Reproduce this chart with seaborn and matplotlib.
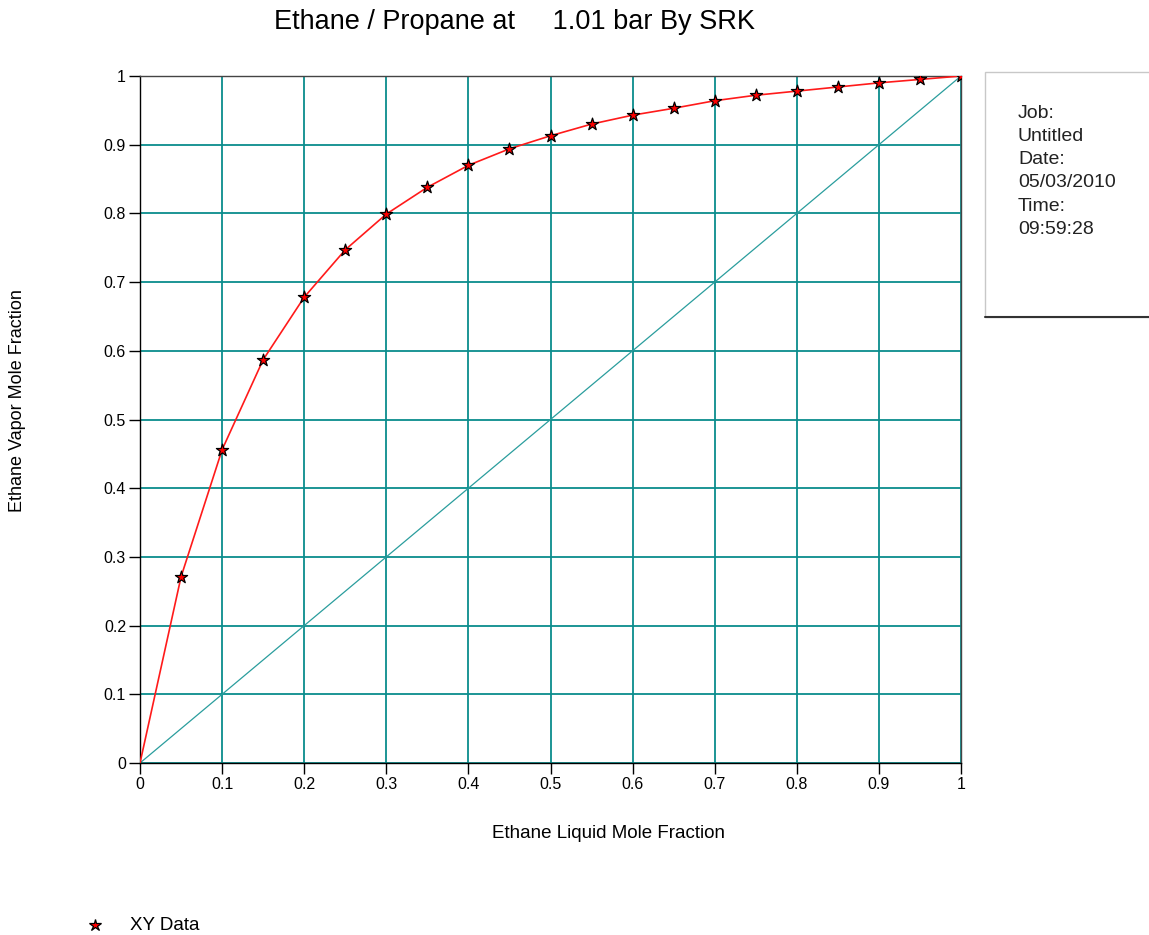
import matplotlib
matplotlib.use("Agg")
import matplotlib.pyplot as plt
import seaborn as sns
import pandas as pd
from matplotlib.patches import Rectangle
from matplotlib.lines import Line2D

x_liquid = [0.0, 0.05, 0.10, 0.15, 0.20, 0.25, 0.30, 0.35, 0.40, 0.45, 0.50,
            0.55, 0.60, 0.65, 0.70, 0.75, 0.80, 0.85, 0.90, 0.95, 1.0]
y_vapor = [0.0, 0.271, 0.456, 0.587, 0.678, 0.747, 0.799, 0.838, 0.870, 0.894, 0.913,
           0.930, 0.943, 0.953, 0.964, 0.972, 0.978, 0.984, 0.990, 0.995, 1.0]
diag = [0.0, 1.0]
ticks = [0, 0.1, 0.2, 0.3, 0.4, 0.5, 0.6, 0.7, 0.8, 0.9, 1]
tick_labels = ["0", "0.1", "0.2", "0.3", "0.4", "0.5", "0.6", "0.7", "0.8", "0.9", "1"]
info_lines = ["Job:", "Untitled", "Date:", "05/03/2010", "Time:", "09:59:28"]

sns.set_style("white")
plt.rcParams['font.family'] = ['Liberation Sans', 'DejaVu Sans']

df = pd.DataFrame({"x": x_liquid, "y": y_vapor})
df_pts = df.iloc[1:]
df_diag = pd.DataFrame({"x": diag, "y": diag})

fig = plt.figure(figsize=(11.49, 9.35), dpi=100)
ax = fig.add_axes([140/1149, 1 - 763/935, 821/1149, 687/935])

teal = "#0a8c8c"
sns.lineplot(data=df_diag, x="x", y="y", ax=ax, color="#2a9d9d", lw=0.9, zorder=2)
sns.lineplot(data=df, x="x", y="y", ax=ax, color="#ff1a1a", lw=1.2, zorder=3)
sns.scatterplot(data=df_pts, x="x", y="y", ax=ax, marker="*", s=85, color="red",
                edgecolor="black", linewidth=0.9, zorder=4)

ax.set_xlim(0, 1)
ax.set_ylim(0, 1)
ax.set_xticks(ticks)
ax.set_yticks(ticks)
ax.set_xticklabels(tick_labels, fontsize=11.5, color="black")
ax.set_yticklabels(tick_labels, fontsize=11.5, color="black")
ax.grid(True, color=teal, lw=1.3, zorder=1)
ax.set_axisbelow(True)
ax.tick_params(axis="both", direction="out", length=8, width=1, color="black",
               bottom=True, left=True, pad=2)
for s in ax.spines.values():
    s.set_color("black")
    s.set_linewidth(1)
ax.spines["top"].set_color("#444444")
ax.spines["right"].set_color("#444444")
ax.set_xlabel("")
ax.set_ylabel("")

fig.text(608/1149, 1 - 833/935, "Ethane Liquid Mole Fraction", ha="center", va="center",
         fontsize=13.5, color="black")
fig.text(18/1149, 1 - 401/935, "Ethane Vapor Mole Fraction", ha="center", va="center",
         rotation=90, fontsize=13, color="black")
fig.text(515/1149, 1 - 22/935, "Ethane / Propane at     1.01 bar By SRK", ha="center",
         va="center", fontsize=19.5, color="black")

# info box
box = Rectangle((985/1149, 1 - 317/935), 200/1149, 245/935, transform=fig.transFigure,
                facecolor="white", edgecolor="#c8c8c8", lw=1)
fig.patches.append(box)
fig.add_artist(Line2D([985/1149, 1.0], [1 - 317/935, 1 - 317/935], transform=fig.transFigure,
                      color="#333333", lw=1.5))
for i, t in enumerate(info_lines):
    fig.text(1018/1149, 1 - (113 + i * 23.3)/935, t, ha="left", va="center", fontsize=14,
             color="#222222")

# legend
fig.add_artist(Line2D([95/1149], [1 - 925/935], transform=fig.transFigure, marker="*",
                      markersize=9, markerfacecolor="red", markeredgecolor="black",
                      markeredgewidth=0.9, linestyle="none"))
fig.text(130/1149, 1 - 925/935, "XY Data", ha="left", va="center", fontsize=13.5,
         color="black")

fig.savefig("out.png", dpi=100)
